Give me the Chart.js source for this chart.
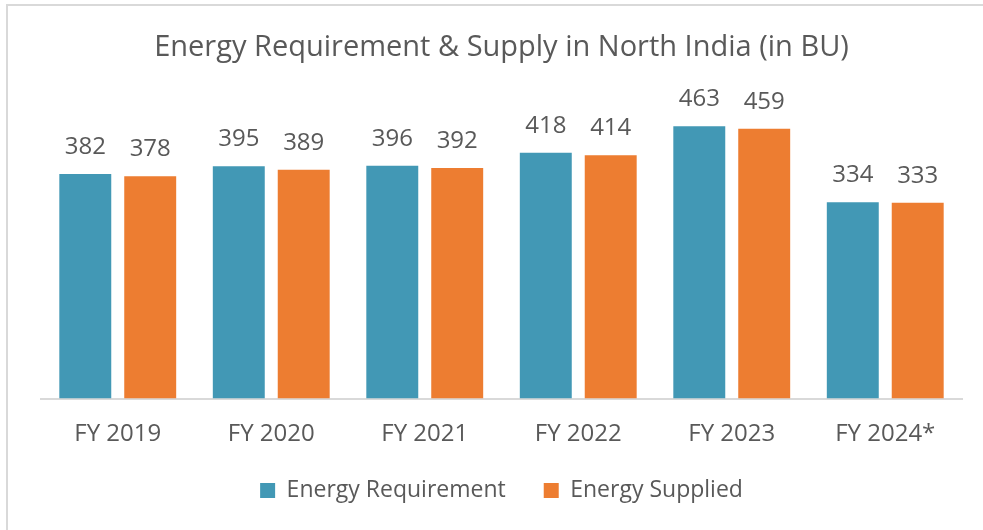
<!DOCTYPE html>
<html>
<head>
<meta charset="utf-8">
<script src="https://cdn.jsdelivr.net/npm/chart.js@4"></script>
<style>
  body { margin: 0; background: #fff; overflow: hidden; }
  #frame {
    position: absolute; left: 6px; top: 4px; width: 983px; height: 530px;
    border-left: 2px solid #d9d9d9; border-top: 2px solid #d9d9d9;
  }
  #wrap { position: absolute; left: 8px; top: 6px; width: 975px; height: 524px; }
</style>
</head>
<body>
<div id="frame"></div>
<div id="wrap"><canvas id="energyChart"></canvas></div>
<script>
const years = ["FY 2019", "FY 2020", "FY 2021", "FY 2022", "FY 2023", "FY 2024*"];
const requirement = [382, 395, 396, 418, 463, 334];
const supplied = [378, 389, 392, 414, 459, 333];

const textColor = "#595959";
const fontName = "'Open Sans', sans-serif";

// value labels above each bar
const barLabels = {
  id: "barLabels",
  afterDatasetsDraw(chart) {
    const c = chart.ctx;
    c.save();
    c.font = "24px " + fontName;
    c.fillStyle = textColor;
    c.textAlign = "center";
    c.textBaseline = "middle";
    chart.data.datasets.forEach((ds, i) => {
      chart.getDatasetMeta(i).data.forEach((bar, j) => {
        c.fillText(ds.data[j], bar.x, bar.y - 27);
      });
    });
    c.restore();
  }
};

new Chart(document.getElementById("energyChart"), {
  type: "bar",
  data: {
    labels: years,
    datasets: [
      { label: "Energy Requirement", data: requirement, backgroundColor: "#4298b5" },
      { label: "Energy Supplied", data: supplied, backgroundColor: "#ed7d31" }
    ]
  },
  options: {
    responsive: true,
    maintainAspectRatio: false,
    animation: false,
    layout: { padding: { left: 33, right: 21, bottom: 18 } },
    datasets: {
      bar: { categoryPercentage: 0.846, barPercentage: 0.8 }
    },
    scales: {
      x: {
        grid: { display: false, tickLength: 28 },
        border: { color: "#d9d9d9", width: 2 },
        ticks: { color: textColor, padding: 0, font: { family: fontName, size: 24, lineHeight: 0.6 } }
      },
      y: { display: false, min: 0, max: 537 }
    },
    plugins: {
      title: {
        display: true,
        text: "Energy Requirement & Supply in North India (in BU)",
        color: textColor,
        font: { family: fontName, size: 29, weight: "normal" },
        padding: { top: 24, bottom: 18 }
      },
      legend: {
        position: "bottom",
        labels: { color: textColor, boxWidth: 15, boxHeight: 15, padding: 38, font: { family: fontName, size: 23 } }
      },
      tooltip: { enabled: false }
    }
  },
  plugins: [barLabels]
});
</script>
</body>
</html>
